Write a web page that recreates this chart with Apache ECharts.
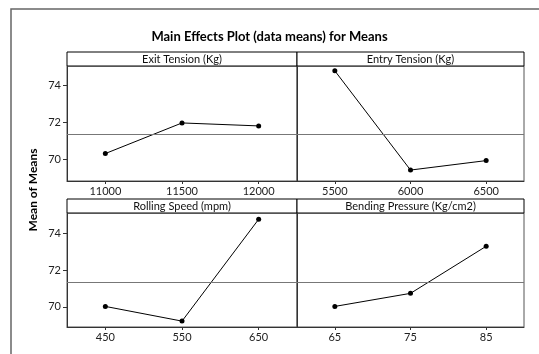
<!DOCTYPE html>
<html><head><meta charset="utf-8">
<script src="https://cdn.jsdelivr.net/npm/echarts@6/dist/echarts.min.js"></script>
<style>html,body{margin:0;padding:0;background:#fff}#c{width:539px;height:354px}</style>
</head><body><div id="c"></div>
<script>
const panelTitles = ['Exit Tension (Kg)', 'Entry Tension (Kg)', 'Rolling Speed (mpm)', 'Bending Pressure (Kg/cm2)'];
const exitTensionLevels = ['11000', '11500', '12000'];
const entryTensionLevels = ['5500', '6000', '6500'];
const rollingSpeedLevels = ['450', '550', '650'];
const bendingPressureLevels = ['65', '75', '85'];
const exitTensionMeans = [70.31, 71.96, 71.80];
const entryTensionMeans = [74.77, 69.42, 69.93];
const rollingSpeedMeans = [70.02, 69.22, 74.76];
const bendingPressureMeans = [70.02, 70.73, 73.29];
const grandMean = 71.33;
const yTicks = [70, 72, 74];

const FONT = 'Lato';
const levels = [exitTensionLevels, entryTensionLevels, rollingSpeedLevels, bendingPressureLevels];
const means = [exitTensionMeans, entryTensionMeans, rollingSpeedMeans, bendingPressureMeans];

const grids = [
  {left: 67, top: 66, width: 230, height: 115},
  {left: 297, top: 66, width: 227, height: 115},
  {left: 67, top: 213, width: 230, height: 114},
  {left: 297, top: 213, width: 227, height: 114}
];
const yRanges = [[68.83, 75.03], [68.83, 75.03], [68.9, 75.1], [68.9, 75.1]];

const option = {
  animation: false,
  backgroundColor: '#fff',
  title: {
    text: 'Main Effects Plot (data means) for Means',
    left: 'center', top: 25,
    textStyle: {fontFamily: FONT, fontSize: 13, fontWeight: 'bold', color: '#000'}
  },
  grid: grids.map(g => Object.assign({show: true, borderColor: '#555', borderWidth: 1, backgroundColor: '#fff'}, g)),
  xAxis: levels.map((lv, i) => ({
    type: 'category', gridIndex: i, data: lv, boundaryGap: true,
    axisLine: {show: true, lineStyle: {color: '#333', width: 1}},
    axisTick: {show: true, alignWithLabel: true, length: 3, inside: false, lineStyle: {color: '#333'}},
    axisLabel: {fontFamily: FONT, fontSize: 11, color: '#222', margin: 5},
    splitLine: {show: false}
  })),
  yAxis: yRanges.map((r, i) => ({
    type: 'value', gridIndex: i, min: r[0], max: r[1],
    axisLine: {show: true, lineStyle: {color: '#333', width: 1}},
    axisTick: {show: i % 2 === 0, length: 4, customValues: yTicks, lineStyle: {color: '#333'}},
    axisLabel: {show: i % 2 === 0, customValues: yTicks, fontFamily: FONT, fontSize: 11, color: '#222', margin: 6},
    splitLine: {show: false}
  })),
  series: means.map((m, i) => ({
    type: 'line', xAxisIndex: i, yAxisIndex: i, data: m,
    symbol: 'circle', symbolSize: 5,
    lineStyle: {color: '#000', width: 1},
    itemStyle: {color: '#000'},
    markLine: {
      silent: true, symbol: ['none', 'none'],
      label: {show: false},
      lineStyle: {color: '#777', type: 'solid', width: 1},
      data: [{yAxis: grandMean}]
    }
  })),
  graphic: [
    {type: 'rect', shape: {x: 11, y: 9, width: 600, height: 400}, style: {fill: 'none', stroke: '#666', lineWidth: 1.5}, z: 0},
    ...grids.map((g, i) => ({
      type: 'group', z: 100,
      children: [
        {type: 'rect', shape: {x: g.left, y: g.top - 14, width: g.width, height: 14},
         style: {fill: '#fff', stroke: '#000', lineWidth: 1}},
        {type: 'text', x: g.left + g.width / 2, y: g.top - 7,
         style: {text: panelTitles[i], fontFamily: FONT, fontSize: 11, fill: '#111', align: 'center', verticalAlign: 'middle'}}
      ]
    })),
    {type: 'text', x: 33, y: 190, rotation: Math.PI / 2,
     style: {text: 'Mean of Means', fontFamily: FONT, fontSize: 12, fontWeight: 'bold', fill: '#000', align: 'center', verticalAlign: 'middle'}}
  ]
};
const chart = echarts.init(document.getElementById('c'), null, {renderer: 'canvas'});
chart.setOption(option);
</script></body></html>
